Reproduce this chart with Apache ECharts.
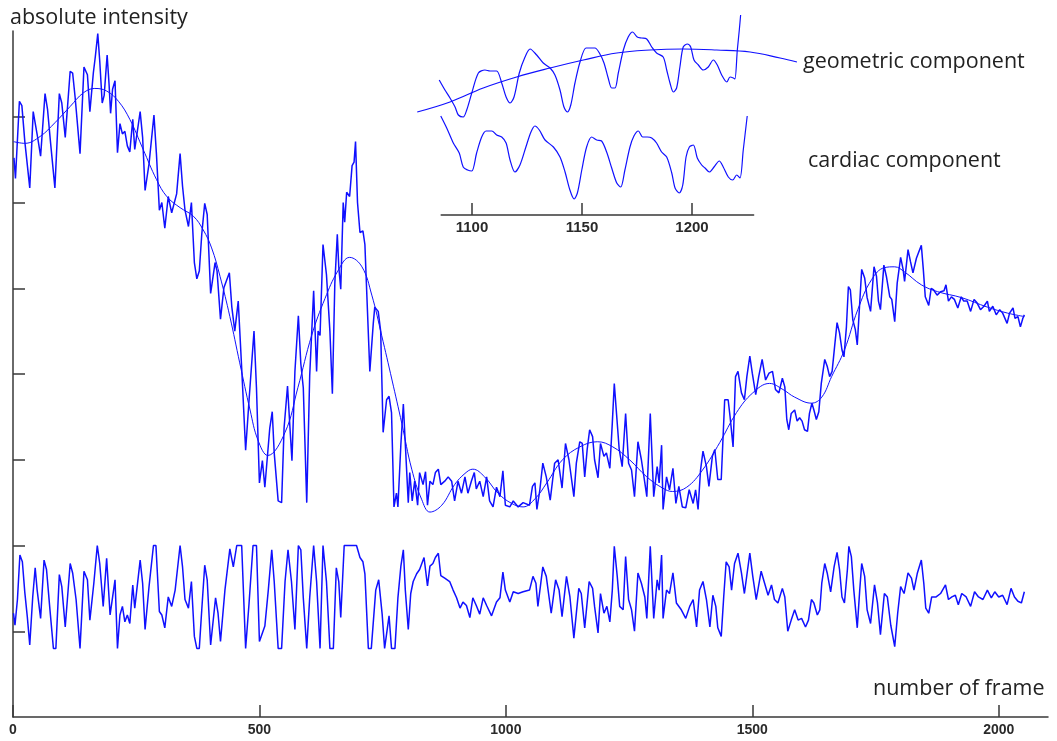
<!DOCTYPE html>
<html>
<head>
<meta charset="utf-8">
<script src="https://cdn.jsdelivr.net/npm/echarts@6/dist/echarts.min.js"></script>
<style>
html,body{margin:0;padding:0;background:#fff;}
#chart{width:1057px;height:741px;}
</style>
</head>
<body>
<div id="chart"></div>
<script>
// ---- Data (frame, intensity in arbitrary units) ----
const xTicks = [0, 500, 1000, 1500, 2000];
const yTicks = [100, 200, 300, 400, 500, 600, 700];
const insetTicks = [1100, 1150, 1200];

const rawIntensity = [[2,652],[5,628],[13,718],[18,713],[24,671],[34,617],[41,706],[45,708],[50,676],[56,654],[65,727],[70,709],[76,671],[85,617],[94,727],[99,716],[106,676],[116,753],[121,751],[126,723],[130,723],[136,657],[144,758],[151,749],[156,706],[163,751],[167,770],[172,797],[176,765],[181,716],[185,725],[191,772],[195,737],[198,704],[202,732],[207,742],[212,658],[217,692],[222,680],[227,683],[232,666],[237,659],[243,697],[247,662],[258,706],[263,676],[268,614],[276,645],[286,702],[291,657],[297,591],[302,600],[308,570],[315,607],[322,588],[332,610],[339,657],[344,619],[349,591],[356,572],[362,600],[368,530],[373,511],[378,520],[383,563],[389,599],[394,586],[401,494],[410,530],[414,520],[421,464],[428,501],[439,518],[444,478],[450,450],[457,485],[464,407],[472,311],[479,370],[489,450],[494,384],[500,273],[506,299],[511,268],[521,337],[526,356],[530,308],[538,252],[545,250],[550,337],[557,386],[562,337],[566,299],[572,403],[579,468],[584,412],[589,384],[596,250],[602,398],[610,497],[616,403],[619,450],[623,445],[629,551],[636,516],[643,450],[648,377],[653,506],[658,563],[661,525],[665,499],[670,600],[673,577],[677,612],[683,607],[688,643],[692,647],[695,671],[699,600],[704,565],[710,567],[714,551],[717,506],[724,403],[731,459],[734,478],[741,473],[746,450],[751,332],[758,370],[763,374],[768,355],[773,245],[778,261],[781,245],[787,318],[792,365],[796,318],[802,250],[805,285],[810,252],[815,275],[821,247],[825,285],[832,271],[837,286],[841,247],[846,275],[852,271],[857,285],[863,289],[868,271],[876,275],[883,280],[890,275],[896,252],[903,275],[910,261],[917,280],[923,261],[930,275],[936,285],[940,266],[947,275],[954,257],[961,280],[967,252],[974,245],[981,268],[988,257],[994,287],[999,247],[1008,245],[1015,252],[1025,245],[1035,250],[1048,247],[1054,269],[1059,273],[1063,242],[1069,265],[1075,296],[1082,280],[1090,253],[1099,296],[1106,300],[1114,267],[1121,319],[1128,300],[1138,257],[1143,296],[1150,321],[1155,319],[1160,280],[1165,312],[1170,335],[1176,327],[1180,300],[1187,279],[1192,319],[1199,304],[1204,308],[1211,290],[1216,343],[1220,389],[1224,358],[1230,312],[1236,292],[1243,354],[1249,296],[1255,288],[1261,257],[1268,321],[1275,300],[1282,273],[1286,257],[1293,354],[1300,257],[1307,292],[1311,273],[1316,317],[1319,242],[1326,280],[1332,265],[1339,290],[1345,249],[1351,269],[1358,245],[1365,244],[1372,265],[1380,249],[1385,265],[1390,242],[1395,288],[1400,310],[1407,292],[1412,269],[1419,304],[1424,312],[1430,277],[1437,277],[1444,370],[1451,370],[1455,350],[1461,315],[1466,397],[1471,403],[1478,378],[1484,370],[1489,397],[1495,421],[1500,401],[1507,376],[1513,397],[1520,417],[1527,393],[1534,401],[1541,403],[1547,382],[1554,378],[1561,395],[1566,385],[1570,347],[1574,335],[1579,354],[1586,358],[1591,345],[1596,349],[1601,345],[1606,335],[1612,333],[1616,354],[1621,366],[1625,358],[1630,347],[1635,356],[1640,389],[1647,417],[1652,409],[1657,397],[1662,403],[1667,432],[1672,460],[1677,448],[1682,428],[1686,420],[1691,455],[1695,502],[1699,498],[1704,463],[1709,452],[1713,434],[1718,483],[1722,522],[1728,512],[1733,489],[1740,473],[1747,525],[1752,514],[1756,485],[1760,475],[1767,527],[1772,514],[1779,490],[1783,487],[1789,461],[1794,506],[1801,536],[1806,522],[1809,508],[1816,545],[1821,531],[1826,518],[1833,535],[1837,541],[1843,550],[1847,522],[1851,490],[1855,489],[1858,480],[1863,500],[1868,498],[1875,492],[1882,496],[1889,497],[1893,504],[1898,485],[1904,490],[1910,487],[1917,477],[1924,490],[1929,485],[1936,485],[1943,473],[1950,487],[1956,483],[1963,475],[1970,479],[1977,485],[1981,473],[1988,479],[1995,469],[2002,475],[2008,471],[2017,459],[2022,471],[2029,477],[2033,465],[2039,467],[2044,455],[2049,465],[2052,469]];

const fittedGeometric = [[1,671],[24,669],[55,677],[85,693],[116,712],[143,728],[166,733],[190,730],[214,718],[237,697],[264,662],[291,627],[312,607],[339,594],[366,584],[386,568],[403,547],[420,514],[440,467],[460,413],[481,358],[497,323],[517,305],[552,332],[578,384],[606,445],[633,488],[659,520],[683,536],[708,525],[728,492],[748,445],[769,393],[789,342],[809,289],[829,254],[846,239],[870,247],[896,271],[917,284],[933,289],[957,280],[984,261],[1012,249],[1035,245],[1060,255],[1083,273],[1115,300],[1150,315],[1186,321],[1217,315],[1251,300],[1286,280],[1318,267],[1338,263],[1367,268],[1399,288],[1434,320],[1468,355],[1501,378],[1535,389],[1562,382],[1586,373],[1620,366],[1641,373],[1661,397],[1687,428],[1714,475],[1742,510],[1768,524],[1789,525],[1809,519],[1843,504],[1876,496],[1925,489],[1977,478],[2018,471],[2052,467]];

const cardiacMain = [[1,121],[4,107],[9,137],[14,189],[19,181],[24,145],[29,117],[34,84],[40,140],[45,174],[49,148],[56,115],[63,183],[68,172],[75,125],[82,80],[87,80],[94,166],[99,152],[106,105],[116,179],[121,168],[128,137],[136,80],[144,170],[151,160],[156,113],[164,156],[171,200],[176,179],[183,129],[190,185],[197,119],[207,160],[212,80],[217,119],[222,129],[227,111],[232,119],[237,109],[243,154],[247,127],[258,183],[263,156],[268,102],[276,152],[285,200],[290,200],[297,123],[302,119],[308,104],[315,140],[322,129],[329,148],[339,200],[344,175],[349,137],[356,127],[362,158],[368,94],[373,80],[378,80],[383,125],[389,177],[394,160],[401,84],[411,139],[416,121],[421,88],[430,148],[440,196],[447,175],[454,200],[464,200],[472,80],[479,133],[487,200],[494,200],[500,88],[511,106],[518,148],[525,195],[530,158],[538,80],[545,80],[552,158],[558,195],[565,158],[572,102],[579,200],[584,195],[589,139],[596,80],[602,139],[610,200],[616,158],[623,80],[629,200],[636,158],[643,80],[650,80],[656,174],[661,158],[665,116],[672,200],[697,200],[704,186],[710,181],[714,167],[721,80],[727,80],[736,148],[742,160],[749,120],[754,80],[763,118],[768,80],[775,80],[781,139],[787,176],[792,195],[796,148],[802,102],[807,144],[812,158],[819,167],[825,172],[834,186],[841,153],[846,176],[852,179],[857,186],[863,191],[868,165],[876,162],[886,158],[893,148],[900,139],[907,127],[913,134],[920,130],[927,116],[933,139],[940,130],[947,120],[954,139],[961,130],[971,118],[981,134],[988,139],[994,169],[999,148],[1008,134],[1015,146],[1025,144],[1035,146],[1048,148],[1055,164],[1061,156],[1065,129],[1075,175],[1082,164],[1092,121],[1101,160],[1108,148],[1114,117],[1123,164],[1130,140],[1138,92],[1148,150],[1153,144],[1160,104],[1169,158],[1176,150],[1180,129],[1187,98],[1192,144],[1199,121],[1205,129],[1211,111],[1216,148],[1220,199],[1226,164],[1231,129],[1238,125],[1243,187],[1249,137],[1255,125],[1261,100],[1268,168],[1275,156],[1282,140],[1286,115],[1293,199],[1300,115],[1307,160],[1311,148],[1316,189],[1319,115],[1326,148],[1332,144],[1339,168],[1346,133],[1356,125],[1365,115],[1373,129],[1380,137],[1387,105],[1393,148],[1400,158],[1407,137],[1414,105],[1420,142],[1426,129],[1430,104],[1437,94],[1442,140],[1447,181],[1453,175],[1458,148],[1464,179],[1471,191],[1478,168],[1484,144],[1495,191],[1501,164],[1508,137],[1518,170],[1525,156],[1532,142],[1539,154],[1545,137],[1552,133],[1561,150],[1566,140],[1572,100],[1579,113],[1586,125],[1593,113],[1600,115],[1608,105],[1614,113],[1620,137],[1625,133],[1632,119],[1637,125],[1641,156],[1647,179],[1652,168],[1659,146],[1666,175],[1672,192],[1677,172],[1682,140],[1687,133],[1693,172],[1696,199],[1701,187],[1706,148],[1713,104],[1718,148],[1722,179],[1728,164],[1733,125],[1740,109],[1748,154],[1754,133],[1760,96],[1768,144],[1774,140],[1781,107],[1789,82],[1795,121],[1801,152],[1808,144],[1816,168],[1823,162],[1828,148],[1835,168],[1843,183],[1848,156],[1852,127],[1858,121],[1864,140],[1873,140],[1882,144],[1892,154],[1898,137],[1905,140],[1912,142],[1918,131],[1925,144],[1934,140],[1943,129],[1951,146],[1959,140],[1968,137],[1977,148],[1985,139],[1992,146],[2000,140],[2008,142],[2017,131],[2025,150],[2032,140],[2039,135],[2046,133],[2052,146]];

// Inset (zoom on frames ~1085-1225), arbitrary intensity units
const insetGeometric = [[1075.1,103],[1090,113],[1105.1,127],[1120.3,138],[1135.5,147],[1150.6,155],[1165.8,162],[1180.9,165],[1196,166],[1211.2,165],[1226.4,163],[1240,157],[1247.7,153]];
const insetTotal = [[1085.1,135],[1087.7,125],[1090,117],[1092.3,108],[1093.8,100],[1096,98],[1097.6,105],[1099.9,122],[1102.9,142],[1105.9,145],[1108.2,144],[1111.2,144],[1113.5,132],[1115.5,118],[1117.3,112],[1119.1,118],[1121.5,142],[1124.1,158],[1126.4,166],[1129.4,160],[1132.4,152],[1135.5,147],[1137.7,140],[1140,125],[1141.8,108],[1143.3,103],[1144.9,110],[1146.8,132],[1149.1,153],[1151.8,167],[1153.6,167],[1155.9,167],[1157.9,162],[1160,152],[1161.9,137],[1163.5,127],[1165,127],[1166.5,142],[1168.8,165],[1171,178],[1173,183],[1175.1,178],[1177.1,177],[1179.4,176],[1181.7,168],[1183.9,162],[1186.9,158],[1188.5,145],[1190,132],[1191.5,123],[1193,127],[1194.5,148],[1196,168],[1197.9,171],[1199.4,168],[1200.9,155],[1202.9,150],[1205.1,145],[1207.4,148],[1209.7,155],[1211.5,150],[1213.5,140],[1215.8,133],[1217.3,138],[1218.8,137],[1219.5,136],[1220.6,165],[1221.5,185],[1222.1,200]];
const insetCardiac = [[1085.8,99],[1088.5,87],[1091.5,72],[1094.2,62],[1096,48],[1098,45],[1099.9,44],[1102.1,62],[1104.4,78],[1106.4,84],[1109,84],[1111.2,80],[1113.5,78],[1115.5,72],[1117.3,55],[1119.5,43],[1121.8,50],[1124.5,68],[1126.8,83],[1128.6,89],[1130.6,85],[1133.2,75],[1137,68],[1140,58],[1142.3,43],[1144.5,25],[1146.4,16],[1147.9,22],[1149.9,45],[1152.1,68],[1154.4,78],[1156.7,75],[1158.9,74],[1161.2,63],[1163.5,47],[1165.8,32],[1167.6,28],[1169.5,45],[1171.8,68],[1173.6,79],[1175.6,84],[1177.6,78],[1179.7,78],[1181.7,77],[1183.9,72],[1186.2,63],[1188.5,58],[1190.8,42],[1192.3,27],[1194.2,22],[1195.8,30],[1197.3,58],[1198.8,68],[1200.6,70],[1202.4,57],[1204.4,50],[1205.9,47],[1207.9,43],[1210,48],[1212.4,54],[1214.2,48],[1216.5,38],[1218.5,35],[1220.3,40],[1221.8,37],[1223.3,65],[1225.1,99]];

const labels = {
  yName: 'absolute intensity',
  xName: 'number of frame',
  geo: 'geometric component',
  card: 'cardiac component'
};

const chart = echarts.init(document.getElementById('chart'), null, {renderer: 'canvas'});
const blue = '#1010ff';
const axisCol = '#383838';
const plain = v => String(v);
const tickFont = {fontFamily: '"Liberation Sans", Arial, sans-serif', fontSize: 14, fontWeight: 'bold', color: '#2a2a2a', formatter: plain};
const insetTickFont = Object.assign({}, tickFont, {fontSize: 15});
const textFont = '"Open Sans", "Noto Sans", sans-serif';
const textSize = '21.5px ';

const option = {
  animation: false,
  backgroundColor: '#fff',
  grid: [
    {left: 13, top: 31, width: 1035, height: 686},
    {left: 417, top: 5, width: 385, height: 210},
    {left: 441.2, top: 5, width: 312.4, height: 210}
  ],
  xAxis: [
    {gridIndex: 0, type: 'value', min: 0, max: 2100,
     axisLine: {show: true, onZero: false, lineStyle: {color: axisCol, width: 1.5}},
     axisTick: {show: true, inside: true, length: 12, customValues: xTicks, lineStyle: {color: axisCol, width: 1.5}},
     axisLabel: Object.assign({show: true, margin: 6, customValues: xTicks}, tickFont),
     splitLine: {show: false}},
    {gridIndex: 1, type: 'value', min: 1075, max: 1250, show: false},
    {gridIndex: 2, type: 'value', min: 1086, max: 1228,
     axisLine: {show: true, onZero: false, lineStyle: {color: axisCol, width: 1.5}},
     axisTick: {show: true, inside: true, length: 12, customValues: insetTicks, lineStyle: {color: axisCol, width: 1.5}},
     axisLabel: Object.assign({show: true, margin: 5, customValues: insetTicks}, insetTickFont),
     splitLine: {show: false}}
  ],
  yAxis: [
    {gridIndex: 0, type: 'value', min: 0, max: 800,
     axisLine: {show: true, onZero: false, lineStyle: {color: axisCol, width: 1.5}},
     axisTick: {show: true, inside: true, length: 12, customValues: yTicks, lineStyle: {color: axisCol, width: 1.5}},
     axisLabel: {show: false},
     splitLine: {show: false}},
    {gridIndex: 1, type: 'value', min: 0, max: 210, show: false},
    {gridIndex: 2, type: 'value', min: 0, max: 210, show: false}
  ],
  series: [
    {type: 'line', xAxisIndex: 0, yAxisIndex: 0, data: rawIntensity, symbol: 'none',
     lineStyle: {color: blue, width: 1.5}, z: 3},
    {type: 'line', xAxisIndex: 0, yAxisIndex: 0, data: fittedGeometric, symbol: 'none', smooth: 0.4,
     lineStyle: {color: blue, width: 1}, z: 4},
    {type: 'line', xAxisIndex: 0, yAxisIndex: 0, data: cardiacMain, symbol: 'none',
     lineStyle: {color: blue, width: 1.5}, z: 3},
    {type: 'line', xAxisIndex: 1, yAxisIndex: 1, data: insetGeometric, symbol: 'none', smooth: 0.4,
     lineStyle: {color: blue, width: 1.2}, z: 4},
    {type: 'line', xAxisIndex: 1, yAxisIndex: 1, data: insetTotal, symbol: 'none', smooth: 0.3,
     lineStyle: {color: blue, width: 1.2}, z: 4},
    {type: 'line', xAxisIndex: 1, yAxisIndex: 1, data: insetCardiac, symbol: 'none', smooth: 0.3,
     lineStyle: {color: blue, width: 1.2}, z: 4}
  ],
  graphic: [
    {type: 'text', x: 10, y: 18, style: {text: labels.yName, font: textSize + textFont, fill: '#222', verticalAlign: 'middle'}},
    {type: 'text', x: 873, y: 689, style: {text: labels.xName, font: textSize + textFont, fill: '#222', verticalAlign: 'middle'}},
    {type: 'text', x: 803, y: 62, style: {text: labels.geo, font: textSize + textFont, fill: '#222', verticalAlign: 'middle'}},
    {type: 'text', x: 808, y: 161, style: {text: labels.card, font: textSize + textFont, fill: '#222', verticalAlign: 'middle'}}
  ]
};
chart.setOption(option);
</script>
</body>
</html>
